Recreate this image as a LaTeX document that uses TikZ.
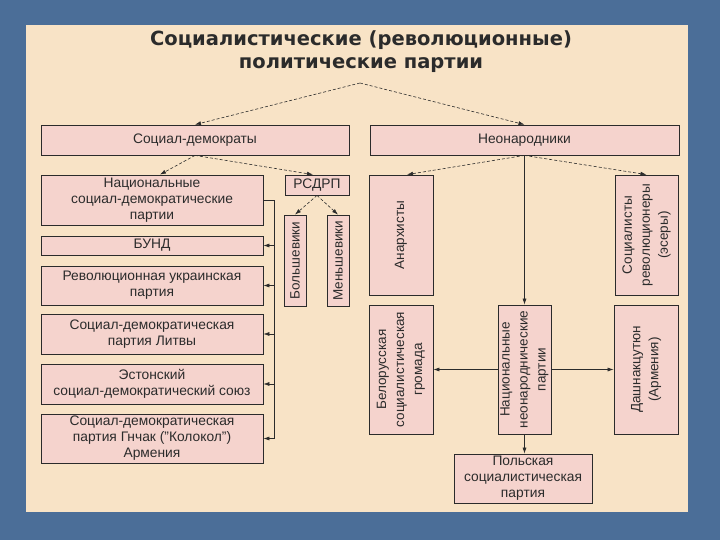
\documentclass[tikz,border=0pt]{standalone}
\usepackage{fontspec}
\setmainfont{Liberation Sans}
\newfontfamily\titlefont{DejaVu Sans}
\usetikzlibrary{arrows.meta,calc}
\definecolor{bgblue}{HTML}{4B6E98}
\definecolor{panel}{HTML}{F8E3C6}
\definecolor{boxpink}{HTML}{F5D3CD}
\definecolor{ink}{HTML}{2B2B2B}
\begin{document}
\begin{tikzpicture}[x=1pt,y=-1pt,
  box/.style={draw=ink, line width=0.8pt, fill=boxpink, inner sep=0pt, align=center,
    font=\fontsize{13.8}{16}\selectfont, text=ink},
  vlab/.style={rotate=90, align=center, inner sep=0pt,
    font=\fontsize{13.5}{18}\selectfont, text=ink},
  arr/.style={-{Latex[length=6pt,width=4pt]}, draw=ink, line width=0.6pt},
  darr/.style={arr, densely dashed}]
\useasboundingbox (0,0) rectangle (720,540);
\fill[bgblue] (0,0) rectangle (720,540);
\fill[panel] (26,25) rectangle (688,512);

\node[font=\titlefont\bfseries\fontsize{19.5}{23}\selectfont, text=ink, align=center] (title) at (361,51.5)
  {Социалистические (революционные)\\политические партии};
\coordinate (top) at (360,83);

% top level
\node[box, minimum width=308pt, minimum height=30pt] (sd) at (195,140) {Социал-демократы};
\node[box, minimum width=309pt, minimum height=30pt] (neo) at (524.5,140) {Неонародники};

% left column
\node[box, minimum width=222pt, minimum height=50pt] (nat) at (152,200)
  {Национальные\\социал-демократические\\партии};
\node[box, minimum width=222pt, minimum height=19pt] (bund) at (152,245.5) {БУНД};
\node[box, minimum width=222pt, minimum height=39pt] (ukr) at (152,285.5)
  {Революционная украинская\\партия};
\node[box, minimum width=222pt, minimum height=40pt] (lit) at (152,334)
  {Социал-демократическая\\партия Литвы};
\node[box, minimum width=222pt, minimum height=40pt] (est) at (152,384)
  {Эстонский\\социал-демократический союз};
\node[box, minimum width=222pt, minimum height=49pt] (gn) at (152,438.5)
  {Социал-демократическая\\партия Гнчак ("Колокол")\\Армения};

% RSDRP
\node[box, minimum width=64pt, minimum height=20pt] (rsdrp) at (317,185) {РСДРП};
\node[box, minimum width=22pt, minimum height=91pt] (bol) at (295,260.5) {};
\node[vlab] (bolT) at (bol) {Большевики};
\node[box, minimum width=22pt, minimum height=91pt] (men) at (338,260.5) {};
\node[vlab] (menT) at (men) {Меньшевики};

% right side
\node[box, minimum width=64pt, minimum height=120pt] (anar) at (401,235) {};
\node[vlab] (anarT) at (anar) {Анархисты};
\node[box, minimum width=63pt, minimum height=120pt] (sr) at (646.5,235) {};
\node[vlab] (srT) at (sr) {Социалисты\\революционеры\\(эсеры)};
\node[box, minimum width=64pt, minimum height=129pt] (bel) at (401,369.5) {};
\node[vlab] (belT) at (bel) {Белорусская\\социалистическая\\громада};
\node[box, minimum width=53pt, minimum height=129pt] (nnp) at (524.5,369.5) {};
\node[vlab] (nnpT) at (nnp) {Национальные\\неонароднические\\партии};
\node[box, minimum width=64pt, minimum height=129pt] (dash) at (646,369.5) {};
\node[vlab] (dashT) at (dash) {Дашнакцутюн\\(Армения)};
\node[box, minimum width=138pt, minimum height=49pt] (pol) at (523,478.5)
  {Польская\\социалистическая\\партия};

% connectors
\draw[darr] (top) -- (sd.north);
\draw[darr] (top) -- (neo.north);
\draw[darr] (sd.south) -- ($(nat.north)+(8,0)$);
\draw[darr] (sd.south) -- ($(rsdrp.north)+(-4,0)$);
\draw[darr] (rsdrp.south) -- (bol.north);
\draw[darr] (rsdrp.south) -- (men.north);

\coordinate (br1) at (274,200);
\coordinate (br2) at (274,438.5);
\draw[ink, line width=0.7pt] (nat.east) -- (br1) -- (br2);
\foreach \n in {bund,ukr,lit,est,gn}
  \draw[arr] (br1 |- \n.east) -- (\n.east);

\draw[darr] (neo.south) -- ($(anar.north)+(6,0)$);
\draw[darr] (neo.south) -- (sr.north);
\draw[arr] (neo.south) -- (nnp.north);
\draw[arr] (nnp.west) -- (bel.east);
\draw[arr] (nnp.east) -- (dash.west);
\draw[arr] (nnp.south) -- (nnp.south |- pol.north);
\end{tikzpicture}
\end{document}
